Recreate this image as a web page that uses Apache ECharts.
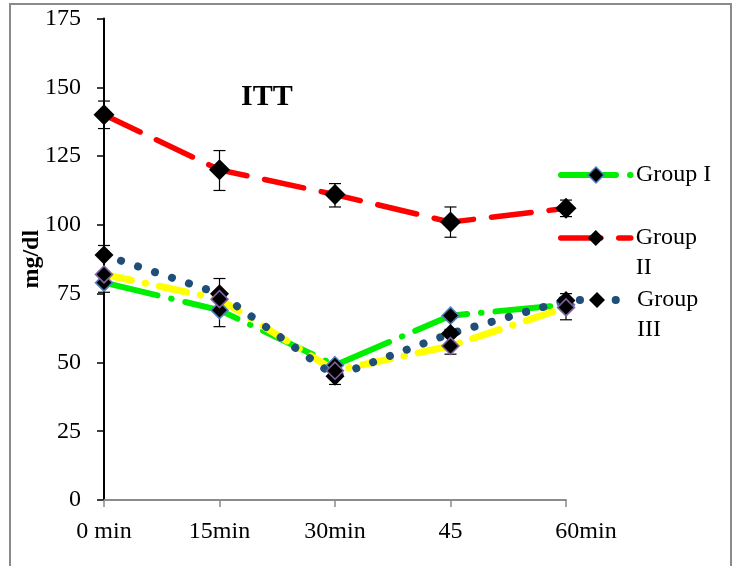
<!DOCTYPE html>
<html>
<head>
<meta charset="utf-8">
<script src="https://cdn.jsdelivr.net/npm/echarts@6/dist/echarts.min.js"></script>
<style>
  html, body { margin: 0; padding: 0; background: #fff; }
  #main { width: 738px; height: 566px; }
</style>
</head>
<body>
<div id="main"></div>
<script>
// 数据
var times = ['0 min', '15min', '30min', '45', '60min'];
var groupI = [79, 69, 49, 67, 71];
var groupII = [140, 120, 111, 101, 106];
var groupIII = [89, 75, 45, 60.5, 72.5];
var groupIV = [82, 73, 47, 56, 70];   // yellow series, not in legend
// error bars (low / high ends)
var errIILow = [135, 112.5, 106.5, 95.5, 103];
var errIIHigh = [145, 127, 115, 106.5, 109];
var errLow = [75.5, 63, 42, 53, 65.5];
var errHigh = [92.5, 80.5, 50, 62, 75];

var FONT = '"Liberation Serif", "Times New Roman", serif';

function errData(lo, hi) {
  return lo.map(function (v, i) { return [i, v, hi[i]]; });
}

function renderErr(params, api) {
  var a = api.coord([api.value(0), api.value(1)]);
  var b = api.coord([api.value(0), api.value(2)]);
  var w = 6;
  var st = { stroke: '#000', lineWidth: 1.2 };
  return {
    type: 'group',
    children: [
      { type: 'line', shape: { x1: a[0], y1: a[1], x2: b[0], y2: b[1] }, style: st },
      { type: 'line', shape: { x1: a[0] - w, y1: a[1], x2: a[0] + w, y2: a[1] }, style: st },
      { type: 'line', shape: { x1: b[0] - w, y1: b[1], x2: b[0] + w, y2: b[1] }, style: st }
    ]
  };
}

var styleI = { color: '#00ee00', width: 6, type: [55, 14, 0.5, 14], cap: 'round' };
var styleII = { color: '#ff0000', width: 5.5, type: [40, 18], cap: 'round' };
var styleIII = { color: '#1f4e79', width: 8, type: [0.1, 17.8], cap: 'round' };
var styleIV = { color: '#ffff00', width: 7, type: [28, 14, 0.5, 14], cap: 'round' };

var itemI = { color: '#000', borderColor: '#4f81bd', borderWidth: 1.5, opacity: 1 };
var itemII = { color: '#000', opacity: 1 };
var itemIII = { color: '#000', opacity: 1 };
var itemIV = { color: '#000', borderColor: '#8064a2', borderWidth: 1.5, opacity: 1 };

function lineSeries(name, data, ls, is) {
  return {
    name: name, type: 'line', data: data, z: 2,
    symbol: 'diamond', showSymbol: false,
    lineStyle: ls, itemStyle: is, silent: true
  };
}
function markSeries(data, size, is, z) {
  return {
    type: 'scatter', data: data, z: z,
    symbol: 'diamond', symbolSize: size,
    itemStyle: is, silent: true
  };
}
// one legend per item, so each can sit where the reference puts it
function oneLegend(name, top, ls, is, txt) {
  return {
    data: [name], left: 558, top: top, padding: 0,
    itemWidth: 70, itemHeight: 20, itemGap: 0,
    selectedMode: false,
    lineStyle: ls, itemStyle: is,
    formatter: function () { return txt; },
    textStyle: { fontFamily: FONT, fontSize: 24, color: '#000', lineHeight: 30 }
  };
}

var myChart = echarts.init(document.getElementById('main'));
var option = {
  animation: false,
  backgroundColor: '#fff',
  title: {
    text: 'ITT', left: 241, top: 82, padding: 0,
    textStyle: { fontFamily: FONT, fontSize: 30, fontWeight: 'bold', color: '#000' }
  },
  graphic: [{
    type: 'rect', shape: { x: 10, y: 4, width: 721, height: 580 },
    style: { fill: 'none', stroke: '#8a8a8a', lineWidth: 2 }, z: 0
  }],
  legend: [
    oneLegend('Group I', 160, styleI, itemI, 'Group I'),
    // leading blank line keeps the icon on the first text line
    oneLegend('Group II', 193, styleII, itemII, ' \nGroup\nII'),
    oneLegend('Group III', 255, styleIII, itemIII, ' \nGroup\nIII')
  ],
  grid: { left: 104, right: 172, top: 18.5, bottom: 66, containLabel: false },
  xAxis: {
    type: 'category', data: times, boundaryGap: false,
    axisLine: { lineStyle: { color: '#8c8c8c', width: 2 } },
    axisTick: { show: true, length: 7, interval: 0, lineStyle: { color: '#8c8c8c', width: 1.5 } },
    axisLabel: {
      interval: 0, hideOverlap: false,
      fontFamily: FONT, fontSize: 24, color: '#000', margin: 20,
      formatter: function (v) { return v === '60min' ? '{r|' + v + '}' : v; },
      rich: { r: { fontFamily: FONT, fontSize: 24, color: '#000', padding: [0, 0, 0, 40] } }
    },
    splitLine: { show: false }
  },
  yAxis: {
    type: 'value', min: 0, max: 175, interval: 25,
    name: 'mg/dl', nameLocation: 'middle', nameRotate: 90, nameGap: 60,
    nameMoveOverlap: false,
    nameTextStyle: { fontFamily: FONT, fontSize: 24, fontWeight: 'bold', color: '#000' },
    axisLine: { show: true, lineStyle: { color: '#000', width: 2 } },
    axisTick: { show: true, length: 7, lineStyle: { color: '#000', width: 1.5 } },
    axisLabel: { fontFamily: FONT, fontSize: 24, color: '#000', margin: 23 },
    splitLine: { show: false }
  },
  series: [
    lineSeries('Group I', groupI, styleI, itemI),
    lineSeries('Group IV', groupIV, styleIV, itemIV),
    lineSeries('Group III', groupIII, styleIII, itemIII),
    lineSeries('Group II', groupII, styleII, itemII),
    {
      type: 'custom', renderItem: renderErr, data: errData(errIILow, errIIHigh),
      z: 3, silent: true
    },
    {
      type: 'custom', renderItem: renderErr, data: errData(errLow, errHigh),
      z: 3, silent: true
    },
    markSeries(groupI.map(function (v, i) { return [i, v]; }), 17, itemI, 4),
    markSeries(groupIII.map(function (v, i) { return [i, v]; }), 19, itemIII, 5),
    markSeries(groupIV.map(function (v, i) { return [i, v]; }), 17, itemIV, 6),
    markSeries(groupII.map(function (v, i) { return [i, v]; }), 21, itemII, 7)
  ]
};
option && myChart.setOption(option);
</script>
</body>
</html>
